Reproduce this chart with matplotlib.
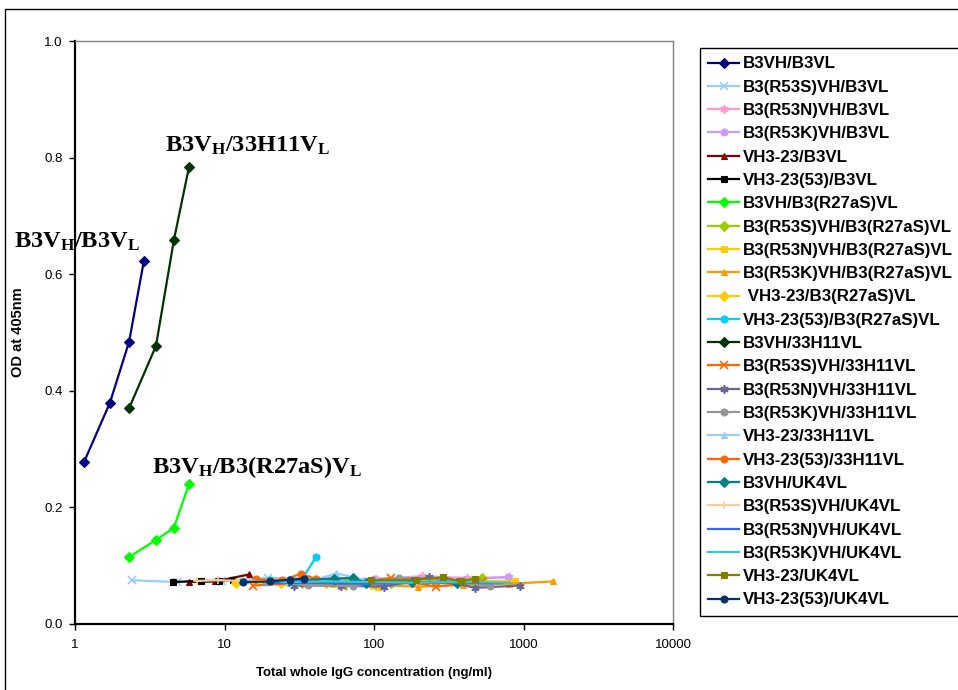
import matplotlib
matplotlib.use("Agg")
import matplotlib.pyplot as plt
from matplotlib.patches import Rectangle

plt.rcParams['font.family'] = ['Liberation Sans', 'DejaVu Sans']
plt.rcParams['mathtext.fontset'] = 'custom'
plt.rcParams['mathtext.rm'] = 'Liberation Serif:bold'
plt.rcParams['mathtext.bf'] = 'Liberation Serif:bold'
plt.rcParams['mathtext.it'] = 'Liberation Serif:bold'

# ---------------- data ----------------
labels = ["B3VH/B3VL", "B3(R53S)VH/B3VL", "B3(R53N)VH/B3VL", "B3(R53K)VH/B3VL",
          "VH3-23/B3VL", "VH3-23(53)/B3VL", "B3VH/B3(R27aS)VL",
          "B3(R53S)VH/B3(R27aS)VL", "B3(R53N)VH/B3(R27aS)VL", "B3(R53K)VH/B3(R27aS)VL",
          " VH3-23/B3(R27aS)VL", "VH3-23(53)/B3(R27aS)VL", "B3VH/33H11VL",
          "B3(R53S)VH/33H11VL", "B3(R53N)VH/33H11VL", "B3(R53K)VH/33H11VL",
          "VH3-23/33H11VL", "VH3-23(53)/33H11VL", "B3VH/UK4VL", "B3(R53S)VH/UK4VL",
          "B3(R53N)VH/UK4VL", "B3(R53K)VH/UK4VL", "VH3-23/UK4VL", "VH3-23(53)/UK4VL"]

conc_b3_b3 = [1.15, 1.71, 2.30, 2.89]
od_b3_b3 = [0.278, 0.379, 0.484, 0.623]
conc_r53s_b3 = [2.4, 4.8, 9.6, 19.5, 39, 55]
od_r53s_b3 = [0.075, 0.072, 0.073, 0.079, 0.078, 0.076]
conc_r53n_b3 = [26, 52, 103, 210, 418, 800]
od_r53n_b3 = [0.072, 0.075, 0.077, 0.082, 0.079, 0.080]
conc_r53k_b3 = [50, 100, 200, 400, 790]
od_r53k_b3 = [0.075, 0.078, 0.077, 0.076, 0.081]
conc_vh323_b3 = [5.8, 8.6, 14.6]
od_vh323_b3 = [0.072, 0.073, 0.085]
conc_vh32353_b3 = [4.5, 7.0, 9.2, 11.4]
od_vh32353_b3 = [0.072, 0.074, 0.074, 0.076]
conc_b3_r27 = [2.30, 3.48, 4.59, 5.79]
od_b3_r27 = [0.115, 0.144, 0.165, 0.240]
conc_r53s_r27 = [33, 65, 130, 260, 527]
od_r53s_r27 = [0.070, 0.071, 0.071, 0.072, 0.079]
conc_r53n_r27 = [53, 106, 218, 437, 877]
od_r53n_r27 = [0.068, 0.064, 0.075, 0.074, 0.074]
conc_r53k_r27 = [49, 98, 197, 394, 800, 1575]
od_r53k_r27 = [0.070, 0.067, 0.064, 0.067, 0.069, 0.073]
conc_vh323_r27 = [12, 24, 48, 96]
od_vh323_r27 = [0.070, 0.071, 0.070, 0.069]
conc_vh32353_r27 = [13, 20, 33, 41]
od_vh32353_r27 = [0.074, 0.076, 0.077, 0.115]
conc_b3_33h11 = [2.30, 3.48, 4.59, 5.79]
od_b3_33h11 = [0.370, 0.477, 0.659, 0.784]
conc_r53s_33h11 = [15.5, 31, 62, 130, 260, 527]
od_r53s_33h11 = [0.066, 0.070, 0.066, 0.079, 0.064, 0.072]
conc_r53n_33h11 = [29, 60, 117, 233, 474, 945]
od_r53n_33h11 = [0.066, 0.066, 0.064, 0.080, 0.062, 0.066]
conc_r53k_33h11 = [19, 36, 72, 147, 300, 600]
od_r53k_33h11 = [0.072, 0.067, 0.065, 0.079, 0.076, 0.065]
conc_vh323_33h11 = [14, 28, 42, 56, 85]
od_vh323_33h11 = [0.076, 0.078, 0.077, 0.087, 0.076]
conc_vh32353_33h11 = [16.2, 24.3, 32.4, 41]
od_vh32353_33h11 = [0.077, 0.075, 0.086, 0.077]
conc_b3_uk4 = [27, 54, 72, 88, 180, 360]
od_b3_uk4 = [0.074, 0.078, 0.079, 0.071, 0.072, 0.070]
conc_r53s_uk4 = [6.5, 9, 13, 26]
od_r53s_uk4 = [0.074, 0.075, 0.074, 0.073]
conc_r53n_uk4 = [22, 44, 88, 176, 352, 700]
od_r53n_uk4 = [0.070, 0.071, 0.069, 0.070, 0.071, 0.070]
conc_r53k_uk4 = [25, 50, 100, 200, 400, 800]
od_r53k_uk4 = [0.072, 0.073, 0.072, 0.071, 0.072, 0.071]
conc_vh323_uk4 = [95, 190, 290, 380, 474]
od_vh323_uk4 = [0.075, 0.076, 0.080, 0.073, 0.078]
conc_vh32353_uk4 = [13.3, 20.2, 27.4, 34]
od_vh32353_uk4 = [0.072, 0.073, 0.076, 0.078]

x_ticks = [1, 10, 100, 1000, 10000]
x_ticklabels = ["1", "10", "100", "1000", "10000"]
y_ticks = [0.0, 0.2, 0.4, 0.6, 0.8, 1.0]
y_ticklabels = ["0.0", "0.2", "0.4", "0.6", "0.8", "1.0"]

series_x = [conc_b3_b3, conc_r53s_b3, conc_r53n_b3, conc_r53k_b3, conc_vh323_b3, conc_vh32353_b3,
            conc_b3_r27, conc_r53s_r27, conc_r53n_r27, conc_r53k_r27, conc_vh323_r27, conc_vh32353_r27,
            conc_b3_33h11, conc_r53s_33h11, conc_r53n_33h11, conc_r53k_33h11, conc_vh323_33h11,
            conc_vh32353_33h11, conc_b3_uk4, conc_r53s_uk4, conc_r53n_uk4, conc_r53k_uk4,
            conc_vh323_uk4, conc_vh32353_uk4]
series_y = [od_b3_b3, od_r53s_b3, od_r53n_b3, od_r53k_b3, od_vh323_b3, od_vh32353_b3,
            od_b3_r27, od_r53s_r27, od_r53n_r27, od_r53k_r27, od_vh323_r27, od_vh32353_r27,
            od_b3_33h11, od_r53s_33h11, od_r53n_33h11, od_r53k_33h11, od_vh323_33h11,
            od_vh32353_33h11, od_b3_uk4, od_r53s_uk4, od_r53n_uk4, od_r53k_uk4,
            od_vh323_uk4, od_vh32353_uk4]

# ---------------- styles ----------------
AST = (6, 2, 0)
colors = ["#000080", "#99CCFF", "#FF99CC", "#CC99FF", "#800000", "#000000",
          "#00FF00", "#99CC00", "#FFCC00", "#FF9900", "#FFCC00", "#00CCFF",
          "#003300", "#FF6600", "#666699", "#969696", "#99CCFF", "#FF6600",
          "#008080", "#FFCC99", "#3366FF", "#33CCCC", "#808000", "#003366"]
markers = ["D", "x", AST, "o", "^", "s",
           "D", "D", "s", "^", "D", "o",
           "D", "x", AST, "o", "^", "o",
           "D", "+", "_", "_", "s", "o"]

W, H = 958, 690
fig = plt.figure(figsize=(W / 100, H / 100), dpi=100)
ax = fig.add_axes([75 / W, (H - 624) / H, 598 / W, 583 / H])

# outer chart border
fig.patches.append(Rectangle((5 / W, -0.05), 1.2, (H - 9) / H + 0.05, transform=fig.transFigure,
                             fill=False, edgecolor="black", linewidth=1.0, zorder=0))

handles = []
for i in range(len(labels)):
    small = markers[i] in ("x", "+", AST, "_")
    ms = 6 if small else 5
    (ln,) = ax.plot(series_x[i], series_y[i], color=colors[i], marker=markers[i],
                    markersize=ms, markeredgewidth=1.2 if small else 0.8,
                    markeredgecolor=colors[i], linewidth=1.6, label=labels[i])
    handles.append(ln)

ax.set_xscale("log")
ax.set_xlim(1, 10000)
ax.set_ylim(0, 1.0)
ax.set_xticks(x_ticks)
ax.set_xticklabels(x_ticklabels)
ax.xaxis.set_minor_locator(matplotlib.ticker.NullLocator())
ax.set_yticks(y_ticks)
ax.set_yticklabels(y_ticklabels)
ax.tick_params(axis="both", direction="out", length=4, width=1, labelsize=9.5, colors="black")
ax.tick_params(axis="x", pad=7)
ax.tick_params(axis="y", pad=5)

for s in ("left", "bottom"):
    ax.spines[s].set_linewidth(1.6)
    ax.spines[s].set_color("black")
for s in ("top", "right"):
    ax.spines[s].set_linewidth(1.0)
    ax.spines[s].set_color("#808080")

ax.set_xlabel("Total whole IgG concentration (ng/ml)", fontsize=9.5, fontweight="bold", labelpad=11)
ax.set_ylabel("OD at 405nm", fontsize=10.5, fontweight="bold", labelpad=14)

# annotations
ann_kw = dict(transform=fig.transFigure, fontsize=17.6, va="baseline", ha="left", color="black")
fig.text(14 / W, (H - 248) / H, r"$\mathbf{B3V_{H}/B3V_{L}}$", **ann_kw)
fig.text(165 / W, (H - 152) / H, r"$\mathbf{B3V_{H}/33H11V_{L}}$", **ann_kw)
fig.text(152 / W, (H - 473) / H, r"$\mathbf{B3V_{H}/B3(R27aS)V_{L}}$", **ann_kw)

leg = fig.legend(handles=handles, labels=labels, loc="upper left",
                 bbox_to_anchor=(700 / W, (H - 48) / H), bbox_transform=fig.transFigure,
                 frameon=True, fancybox=False, edgecolor="black", framealpha=1,
                 prop={"family": "Liberation Sans", "weight": "bold", "size": 12.2},
                 handlelength=1.8, handletextpad=0.25, labelspacing=0.49,
                 borderpad=0.5, borderaxespad=0.0, markerscale=1.0)
leg.get_frame().set_linewidth(1.0)

fig.savefig("out.png", dpi=100)
